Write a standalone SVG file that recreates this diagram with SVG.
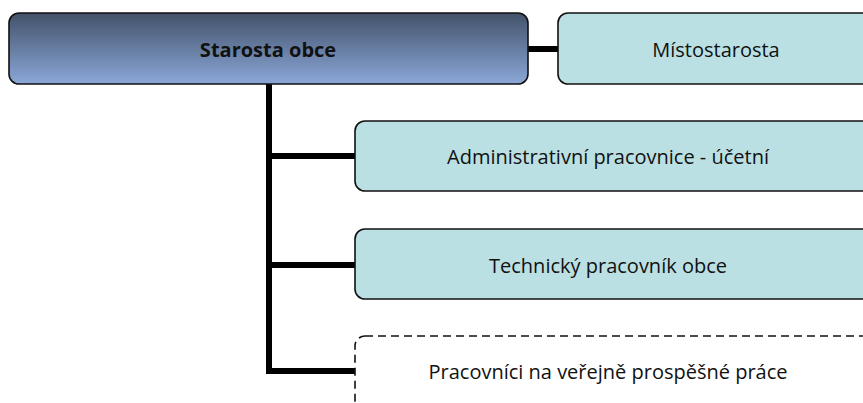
<svg xmlns="http://www.w3.org/2000/svg" width="863" height="403" viewBox="0 0 863 403">
<defs>
<linearGradient id="g" x1="0" y1="0" x2="0" y2="1">
<stop offset="0" stop-color="#425269"/>
<stop offset="1" stop-color="#8ba7d8"/>
</linearGradient>
<style>
.box{fill:#bbe0e3;stroke:#111;stroke-width:1.6}
.dash{fill:#fff;stroke:#111;stroke-width:1.6;stroke-dasharray:8,5}
.t{font-family:"Open Sans","Liberation Sans",sans-serif;font-size:20px;fill:#111;text-anchor:middle;dominant-baseline:central}
.c{stroke:#000;stroke-width:6;fill:none}
</style>
</defs>
<g id="connectors">
<path class="c" d="M528 49H558"/>
<path class="c" d="M269 84V371H355"/>
<path class="c" d="M269 156H355"/>
<path class="c" d="M269 265H355"/>
</g>
<g id="starosta">
<rect x="9" y="13" width="519" height="71" rx="10" fill="url(#g)" stroke="#111" stroke-width="1.6"/>
<text class="t" x="268" y="49" font-weight="bold">Starosta obce</text>
</g>
<g id="mistostarosta">
<rect class="box" x="558" y="13" width="320" height="71" rx="10"/>
<text class="t" x="716" y="49">Místostarosta</text>
</g>
<g id="admin">
<rect class="box" x="355" y="121" width="520" height="70" rx="10"/>
<text class="t" x="608" y="156">Administrativní pracovnice - účetní</text>
</g>
<g id="technik">
<rect class="box" x="355" y="229" width="520" height="70" rx="10"/>
<text class="t" x="608" y="265">Technický pracovník obce</text>
</g>
<g id="vpp">
<rect class="dash" x="355" y="336" width="520" height="90" rx="10"/>
<text class="t" x="608" y="371">Pracovníci na veřejně prospěšné práce</text>
</g>
</svg>
